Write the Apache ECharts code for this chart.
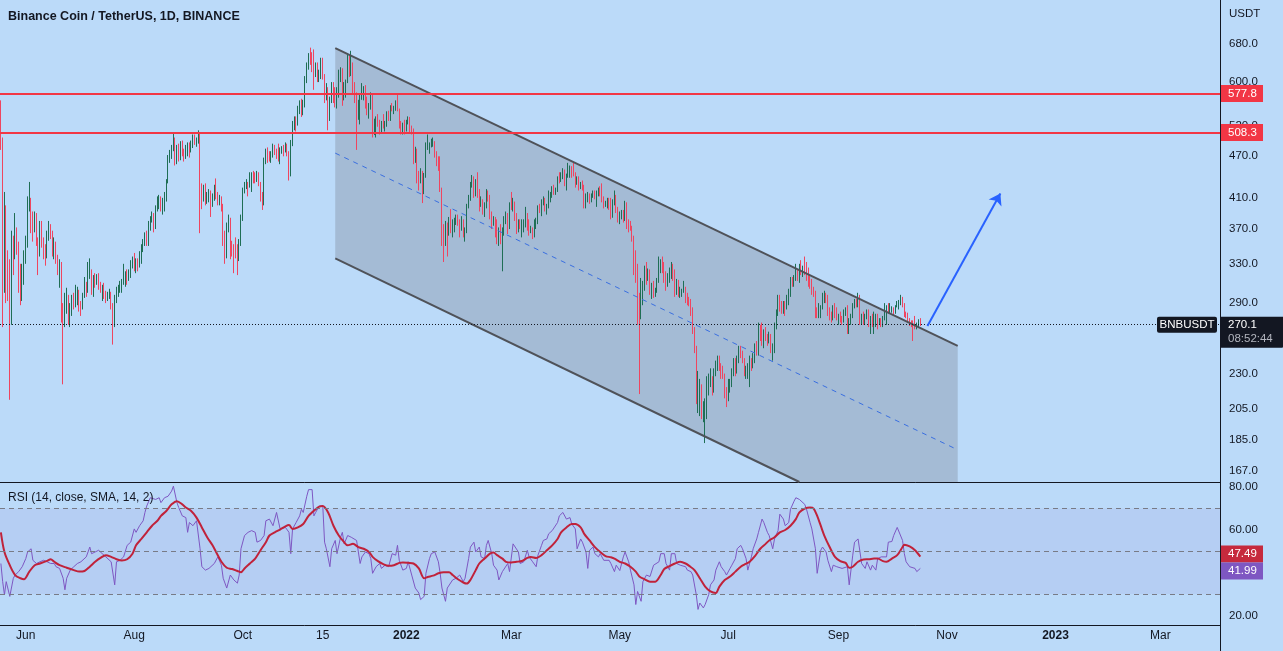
<!DOCTYPE html>
<html><head><meta charset="utf-8">
<script src="https://cdn.jsdelivr.net/npm/echarts@6/dist/echarts.min.js"></script>
<style>html,body{margin:0;padding:0;background:#bbdaf9;}#c{width:1283px;height:651px;}</style>
</head><body><div id="c"></div>
<script>
// ---------------- DATA ----------------
const startDate = '2021-05-18';
const dayCount = 686;              // categories through 2023-04-03
const firstOpen = 560;
const closes = [
493,345,390,330,322,285,355,338,362,350,316,300,318,338,
352,400,408,382,370,385,356,352,375,355,347,345,364,370,366,342,352,336,326,330,280,276,290,296,278,284,294,290,298,302,
288,287,298,310,302,318,322,303,314,312,316,307,305,306,298,294,298,299,287,272,294,302,304,307,310,316,318,314,320,330,331,
326,332,330,341,348,352,360,357,375,380,386,372,397,405,406,396,396,411,431,468,475,480,493,464,484,469,490,475,470,478,487,
481,489,498,497,497,503,425,411,419,408,414,418,403,413,423,415,407,409,400,361,340,373,382,350,347,346,340,336,353,383,
420,428,431,426,441,441,440,436,442,429,412,408,462,476,470,467,474,482,479,474,467,479,483,479,486,474,444,490,520,532,531,
548,560,550,556,606,632,650,648,636,618,624,610,615,640,612,581,585,540,568,580,570,558,582,612,614,568,588,600,640,617,
634,582,574,553,556,570,580,586,559,542,556,576,512,522,527,524,516,522,520,521,540,531,551,550,550,556,548,520,511,518,511,
528,531,512,509,472,481,440,435,443,418,440,485,486,487,491,494,477,466,458,422,373,360,375,374,376,374,378,379,384,381,374,
379,363,370,399,410,430,436,418,432,415,400,406,392,399,418,412,386,378,383,367,356,370,355,369,383,384,373,401,
400,402,386,369,380,372,372,375,388,376,367,369,364,378,380,397,396,404,407,395,398,410,414,421,419,420,437,434,442,445,429,
441,442,452,449,444,430,436,425,430,425,401,411,415,406,414,418,415,417,420,418,409,401,403,408,404,387,405,412,395,380,
390,391,380,403,378,377,372,361,326,321,294,281,297,309,326,316,322,302,305,298,302,313,328,332,327,318,310,316,320,328,320,
302,311,298,301,302,305,298,292,291,283,265,250,214,218,219,201,204,208,225,225,225,218,232,237,241,236,230,229,217,215,
220,223,232,240,234,240,250,245,240,231,232,235,240,237,241,251,247,267,263,255,262,258,256,260,249,249,270,280,293,287,285,
287,286,294,298,311,309,315,320,314,326,321,325,322,316,315,308,302,300,284,278,285,285,296,297,293,284,277,276,286,280,276,
278,276,273,282,283,273,273,278,287,291,289,295,274,276,275,277,282,271,275,271,272,278,273,273,272,276,280,285,283,283,
285,280,287,290,290,295,289,279,278,275,272,271,270,268,270,273,270.1
];
const highs = [
565,500,418,400,345,335,368,362,390,372,355,330,330,345,
362,412,432,410,392,392,390,360,380,380,360,352,368,380,376,368,360,355,340,335,332,290,300,305,298,290,298,300,308,306,
303,292,300,316,311,332,336,324,318,320,319,320,311,308,310,302,301,304,301,290,298,306,308,312,314,330,322,324,324,334,338,
342,336,336,344,352,358,366,368,380,386,392,390,400,412,414,412,410,418,436,472,480,488,508,500,488,490,494,495,482,488,492,
492,495,505,505,500,512,506,430,428,430,418,422,420,416,428,437,418,414,412,402,368,378,388,384,356,352,360,352,358,388,
424,432,436,432,446,446,448,446,448,446,432,418,468,482,484,478,478,490,488,482,490,484,486,488,492,490,478,496,528,536,536,
555,565,568,566,612,640,660,672,662,668,640,640,625,650,650,616,598,590,572,600,600,590,590,625,630,628,600,605,660,655,
665,640,600,580,566,575,598,592,594,572,560,580,578,532,536,540,530,528,540,528,545,546,556,560,555,565,575,550,528,525,530,
530,536,535,520,515,485,482,448,452,448,445,492,505,492,498,500,494,478,470,470,424,376,380,378,385,395,382,384,388,388,382,
386,382,372,402,414,432,442,440,436,446,422,412,408,404,422,420,414,392,386,385,382,372,376,372,386,392,390,404,
418,410,405,390,382,382,382,382,398,390,382,374,372,382,384,400,402,408,412,410,402,420,418,426,428,424,440,446,446,452,450,
444,460,456,455,460,446,440,440,432,434,428,416,418,416,416,420,420,420,424,426,430,412,406,410,410,410,408,420,414,398,
392,394,394,406,404,382,380,374,362,345,330,300,315,312,328,332,325,324,310,312,305,315,338,335,338,332,322,320,326,332,330,
324,314,313,306,304,312,306,300,296,294,286,268,252,232,226,222,210,212,228,230,234,228,234,240,244,244,238,236,230,220,
226,226,234,242,242,244,252,252,248,242,236,238,244,242,246,254,256,272,270,272,266,268,262,264,262,254,272,284,298,298,292,
292,292,298,304,316,316,318,330,324,330,334,328,338,332,326,318,314,306,302,286,290,288,300,302,300,298,286,282,288,290,286,
280,282,278,284,286,288,276,280,290,294,294,300,298,280,282,280,284,284,278,280,282,280,280,276,276,278,290,288,290,290,
287,286,288,292,293,298,296,290,282,281,276,274,274,278,272,275,276
];
const lows = [
480,268,300,290,292,211,270,318,335,340,300,288,292,308,
330,348,392,365,355,366,350,318,338,348,335,328,336,356,358,338,335,330,318,305,272,222,268,280,270,268,278,284,286,288,
282,278,284,295,296,300,314,298,296,305,308,303,300,292,294,290,292,294,284,253,268,290,296,300,300,308,306,308,312,315,325,
322,320,322,326,330,343,350,350,350,368,378,366,370,392,395,392,388,392,405,430,460,466,478,456,458,462,464,470,462,466,470,
468,476,483,488,485,490,365,395,405,400,402,404,385,398,406,408,400,400,392,350,330,336,366,335,338,320,336,318,333,350,
380,416,422,412,424,418,430,430,432,426,405,394,400,458,460,462,460,468,472,466,462,458,474,470,476,470,434,440,486,512,510,
520,540,535,538,552,598,625,635,620,585,610,600,600,606,605,560,565,512,528,560,560,552,550,570,600,555,565,570,598,610,
612,575,560,480,530,522,566,565,550,538,532,548,500,504,500,518,505,508,515,510,518,528,528,545,540,546,545,515,505,505,505,
510,522,508,505,458,460,430,420,430,403,415,438,480,474,484,485,468,455,448,418,350,332,350,338,362,365,360,366,375,374,360,
368,360,355,365,396,406,424,410,412,410,392,398,388,385,396,405,382,370,374,360,352,350,352,322,362,376,364,370,
394,392,380,364,366,370,360,366,372,368,362,365,358,360,370,376,390,386,400,392,388,396,404,410,414,414,418,430,432,436,426,
420,438,438,438,440,424,428,420,422,420,396,396,404,402,404,410,408,398,412,412,404,396,398,396,394,382,384,400,390,378,
376,382,378,380,370,366,368,355,318,310,270,215,275,288,302,308,312,298,294,295,296,300,310,320,320,310,302,306,310,314,312,
296,298,296,295,296,300,290,288,287,278,262,246,208,202,200,198,196,183,198,214,220,214,216,228,232,232,226,226,212,206,
210,216,220,228,228,230,238,242,238,228,226,226,220,232,234,238,244,244,256,252,250,256,252,254,246,240,246,266,278,282,280,
280,278,284,288,296,306,306,312,312,310,318,316,318,312,306,304,298,296,276,276,276,276,284,290,290,278,274,272,274,276,274,
270,272,270,272,278,262,262,270,276,285,286,286,270,270,270,270,275,268,262,268,262,268,266,270,268,268,274,270,280,280,
281,279,280,286,284,288,286,277,276,272,269,268,256,266,266,268,269
];
// RSI(14): [day index from startDate, value]
const rsiPoints = [[0,44.3],[1,35.8],[2,29.7],[3,35.8],[5,28.9],[7,37.4],[8,38.9],[10,40.5],[12,42.8],[14,46.6],[15,49.7],[17,51.2],[18,45.8],[20,44.3],[22,45.1],[24,45.8],[26,45.1],[28,44.3],[30,44.3],[31,42.8],[33,42],[35,37.4],[36,32],[37,37.4],[39,41.2],[41,42.8],[43,44.3],[45,45.1],[46,45.8],[48,47.4],[50,52],[51,48.9],[53,49.7],[55,50.5],[57,48.9],[59,47.4],[60,46.6],[62,45.1],[64,34.3],[65,45.1],[67,45.8],[69,47.4],[71,52.8],[73,54.3],[75,60.5],[76,58.9],[78,62],[80,64.3],[81,68.2],[82,71.2],[84,75.1],[85,75.8],[87,74.3],[89,75.1],[90,72.8],[92,75.1],[94,75.8],[96,78.2],[97,80.5],[99,72.8],[100,70.5],[102,66.6],[104,65.8],[105,58.9],[106,63.5],[108,62],[110,64.3],[111,65.1],[112,51.2],[113,42.8],[115,41.2],[117,42],[118,41.2],[120,44.3],[122,47.4],[124,43.5],[125,37.4],[127,32.8],[129,38.9],[131,36.6],[133,35.1],[134,38.9],[135,51.2],[137,57.4],[139,58.9],[141,59.7],[143,58.9],[144,54.3],[146,55.1],[148,57.4],[149,64.3],[151,65.1],[153,62],[155,68.2],[157,60.5],[158,59.7],[160,61.2],[162,58.9],[163,48.9],[164,60.5],[166,63.5],[168,66.6],[169,69.7],[170,68.2],[172,75.8],[173,78.9],
[175,78.9],[176,66.6],[177,68.2],[179,71.2],[181,71.2],[182,54.3],[183,51.2],[185,42.8],[186,51.2],[188,55.1],[189,48.9],[191,56.6],[192,58.9],[193,53.5],[195,57.4],[197,56.6],[198,57.4],[200,55.1],[201,49.7],[202,44.3],[203,47.4],[205,49.7],[207,48.9],[208,46.6],[209,39.7],[211,42.8],[213,44.3],[214,42],[216,43.5],[218,42.8],[220,48.9],[222,48.2],[223,52.8],[224,45.8],[226,41.2],[228,42],[229,45.1],[231,38.9],[233,32.8],[235,30.5],[236,27.4],[238,28.9],[239,39.7],[241,46.6],[242,48.9],[244,49.7],[246,45.1],[247,39.7],[248,32.8],[250,26.6],[251,32.8],[252,33.5],[254,36.6],[256,37.4],[258,38.9],[260,35.8],[261,37.4],[263,46.6],[264,52],[266,54.3],[267,49.7],[269,52],[270,47.4],[272,46.6],[273,52.8],[274,55.1],[276,48.9],[277,43.5],[279,41.2],[280,36.6],[282,40.5],[283,41.2],[285,44.3],[286,40.5],[288,53.5],[289,54.3],[291,49.7],[292,44.3],[294,45.1],[296,50.5],[297,47.4],[299,45.1],[301,42.8],[302,48.2],[304,52.8],[305,55.1],[307,55.8],[308,58.2],[310,59.7],[311,60.5],[313,63.5],[314,66.6],[316,68.2],[317,68.9],[318,65.1],[320,65.8],[321,62.8],[323,60.5],[324,51.2],[326,55.8],[327,54.3],[329,49.7],[330,42],[331,50.5],[333,52],[334,48.9],[336,47.4],[337,48.9],[339,45.8],[340,45.1],[342,45.8],[343,44.3],[345,40.5],[346,43.5],[348,41],
[350,47.4],[351,49.7],[353,45.1],[354,41.2],[356,34.3],[357,25.1],[358,31.2],[360,26.6],[361,35.8],[363,38.9],[364,39.7],[365,38.2],[367,43.5],[368,42.8],[370,45.1],[371,48.9],[373,48.9],[374,44.3],[376,41.2],[377,48.9],[379,48.9],[380,44.3],[382,43.5],[383,44.3],[385,42.8],[386,41.2],[388,40.5],[389,38.9],[391,29.7],[392,22.8],[393,25.8],[395,23.5],[396,25.1],[398,29.7],[399,34.3],[401,36.6],[402,41.2],[404,45.1],[405,42.8],[407,40.5],[408,38.9],[410,42],[411,43.5],[413,46.6],[414,51.2],[416,52.8],[417,51.2],[419,46.6],[420,41.2],[422,47.4],[423,51.2],[425,55.8],[426,58.9],[428,65.1],[429,63.5],[431,58.9],[432,57.4],[434,51.2],[435,55.8],[437,59.7],[438,67.4],[440,65.1],[441,62],[443,63.5],[444,69.7],[446,73.5],[447,75.1],[449,74.3],[450,75.1],[452,72],[453,69.7],[455,63.5],[456,60.5],[458,51.2],[459,39.7],[461,50.5],[462,52],[464,49.7],[465,45.8],[467,40.5],[468,43.5],[470,42.8],[471,42.8],[473,42],[474,41.2],[476,42.8],[477,34.3],[479,48.2],[480,54.3],[482,55.8],[483,55.1],[484,44.3],[486,42],[487,45.1],[489,41.2],[490,43.5],[492,41.2],[493,46.6],[495,47.4],[496,48.2],[498,47.4],[499,54.3],[501,54.6],[502,57.4],[504,61.2],[505,62],[507,55.1],[508,48.9],[509,45.1],[511,42.8],[512,42],[514,42],[515,40.5],[517,41.99]];
// RSI-based SMA(14)
const smaPoints = [[0,58.9],[2,49.7],[5,43.5],[8,38.9],[11,37.4],[13,36.9],[16,40.5],[19,43.5],[22,44.3],[26,45.5],[28,46.3],[30,45.1],[33,43.5],[37,42.3],[41,41.2],[44,40.5],[47,40.8],[50,42.8],[53,45.1],[56,46.9],[59,48.2],[62,47.4],[65,46.3],[68,45.7],[71,46.3],[74,48.9],[76,52.8],[79,55.8],[82,58.9],[85,62],[88,64.3],[90,66.6],[93,68.9],[96,72],[99,73.5],[102,72],[104,70.5],[107,68.9],[110,65.8],[113,61.2],[116,56.6],[119,52.8],[121,49.7],[124,45.1],[127,42.3],[130,41.7],[133,40.8],[135,40.2],[137,42],[140,44.3],[143,46.6],[146,50.5],[149,54.3],[151,57.4],[154,58.9],[157,60.2],[160,61.7],[162,62.3],[164,60.5],[167,61.2],[170,62.8],[173,66.6],[177,69.7],[179,70.9],[181,71.2],[184,68.2],[187,62],[190,57.4],[193,54.3],[195,52.8],[198,53.5],[201,52],[204,51.2],[207,49.7],[209,47.4],[212,45.4],[215,44],[218,43.2],[221,43.5],[224,44.6],[226,44.8],[229,44.6],[232,44.3],[235,42],[238,37.4],[240,38],[243,38.6],[246,39.7],[249,40.2],[252,40.2],[254,38.9],[257,36.9],[260,35.4],[262,34.9],[264,36.6],[267,41.2],[269,44.3],[272,46.6],[275,48.9],[277,49.4],[279,48.2],[282,46.6],[284,45.1],[287,44.8],[290,45.1],[293,45.5],[296,46.9],[298,47.4],[301,46.9],[304,48.2],[307,50.5],[310,52.8],[313,55.8],[315,58.9],[318,61.2],[321,62.8],[323,62.8],[326,61.2],[328,58.2],[331,55.1],[334,52],[337,49.7],[340,47.8],[343,47.2],[345,46.6],[348,45.1],[351,44.3],[354,42.8],[357,40.5],[359,38.2],[362,36.9],[365,35.8],[368,35.8],[371,38.9],[373,41.7],[376,43.1],[379,44.3],[382,45.1],[385,44.3],[387,43.2],[390,41.2],[393,37.4],[396,33.5],[399,31.2],[402,30.5],[404,33.5],[407,36.6],[410,38.2],[413,40.5],[416,42.8],[418,43.8],[421,45.1],[424,47.8],[427,51.2],[430,53.5],[432,55.1],[435,56.6],[438,58.9],[441,60],[444,62],[447,65.1],[449,68.2],[452,70],[455,70.5],[457,70],[459,66.6],[461,62],[463,57.4],[466,52],[469,47.4],[472,45.4],[475,44.6],[477,42.3],[479,42.8],[482,45.1],[485,46.2],[488,46.3],[491,46.6],[493,46.6],[496,45.4],[498,45.1],[501,46.6],[504,48.2],[507,52],[508,53.1],[511,52.3],[514,50.5],[517,47.49]];

const priceTicks = [167,185,205,230,260,290,330,370,410,470,520,600,680];
const rsiTicks = [20,40,60,80];
const levelLines = [577.8, 508.3];
const lastPrice = 270.1;
const countdown = '08:52:44';
const lastRsi = 41.99;
const lastSma = 47.49;
const rsiBands = [70, 50, 30];
// drawings: [date, price]
const channelUpper = [['2021-11-22', 671], ['2022-11-07', 252]];
const channelLower = [['2021-11-22', 336], ['2022-08-10', 161]];
const channelMid   = [['2021-11-22', 475], ['2022-11-07', 179]];
const arrowLine    = [['2022-10-21', 269], ['2022-12-01', 416]];
const xLabels = {'2021-06-01':'Jun','2021-08-01':'Aug','2021-10-01':'Oct','2021-11-15':'15','2022-01-01':'2022','2022-03-01':'Mar','2022-05-01':'May','2022-07-01':'Jul','2022-09-01':'Sep','2022-11-01':'Nov','2023-01-01':'2023','2023-03-01':'Mar'};

// ---------------- BUILD ----------------
const FONT = '"Liberation Sans", Arial, sans-serif';
const TXT = '#131722';
const BG = '#bbdaf9';
const UP = '#1f6e55', DOWN = '#ef4560';
const gridRight = 63;
const priceMin = 161, priceMax = 786;
const rsiMin = 15.5, rsiMax = 82;

const [sy, sm, sd] = startDate.split('-').map(Number);
const t0 = Date.UTC(sy, sm - 1, sd);
const dates = [];
for (let i = 0; i < dayCount; i++) dates.push(new Date(t0 + i * 86400000).toISOString().slice(0, 10));
const idx = d => dates.indexOf(d);

const candles = closes.map((c, i) => {
  const o = i === 0 ? firstOpen : closes[i - 1];
  return [o, c, Math.min(lows[i], o, c), Math.max(highs[i], o, c)];
});
const seg = pts => pts.map(p => [idx(p[0]), p[1]]);
const channelPoly = [channelUpper[0], channelUpper[1], [channelUpper[1][0], channelLower[1][1]], channelLower[1], channelLower[0]];

const chart = echarts.init(document.getElementById('c'), null, {renderer: 'canvas', width: 1283, height: 651});
const option = {
  animation: false,
  backgroundColor: BG,
  textStyle: {fontFamily: FONT},
  title: [
    {text: 'Binance Coin / TetherUS, 1D, BINANCE', left: 3, top: 5, padding: [5, 5], textStyle: {fontFamily: FONT, fontSize: 12.5, fontWeight: 'bold', color: TXT}},
    {text: 'RSI (14, close, SMA, 14, 2)', left: 3, top: 487, padding: [5, 5], textStyle: {fontFamily: FONT, fontSize: 12, fontWeight: 'normal', color: TXT}}
  ],
  grid: [
    {left: 0, right: gridRight, top: 0, height: 482},
    {left: 0, right: gridRight, top: 483, bottom: 26}
  ],
  xAxis: [
    {type: 'category', gridIndex: 0, data: dates, boundaryGap: true,
     axisLine: {show: true, lineStyle: {color: TXT, width: 1}}, axisTick: {show: false}, axisLabel: {show: false}, splitLine: {show: false}},
    {type: 'category', gridIndex: 1, data: dates, boundaryGap: true,
     axisLine: {show: true, lineStyle: {color: TXT, width: 1}}, axisTick: {show: false}, splitLine: {show: false},
     axisLabel: {show: true, margin: 5, color: TXT, fontSize: 12, fontFamily: FONT, hideOverlap: false,
       interval: (i, v) => xLabels[v] !== undefined,
       formatter: v => { const t = xLabels[v] || ''; return /^\d{4}$/.test(t) ? '{y|' + t + '}' : t; },
       rich: {y: {fontWeight: 'bold', fontSize: 12, fontFamily: FONT, color: TXT}}}}
  ],
  yAxis: [
    {type: 'log', logBase: 10, gridIndex: 0, position: 'right', min: priceMin, max: priceMax,
     axisLine: {show: true, lineStyle: {color: TXT}}, axisTick: {show: false}, axisLabel: {show: false}, splitLine: {show: false}},
    {type: 'value', gridIndex: 1, position: 'right', min: rsiMin, max: rsiMax,
     axisLine: {show: true, lineStyle: {color: TXT}}, axisTick: {show: false}, axisLabel: {show: false}, splitLine: {show: false}}
  ],
  series: [
    {type: 'custom', name: 'channelFill', xAxisIndex: 0, yAxisIndex: 0, z: 1, silent: true,
     data: [[idx(channelUpper[0][0]), channelUpper[0][1]]],
     renderItem: (params, api) => ({type: 'polygon', shape: {points: channelPoly.map(p => api.coord([idx(p[0]), p[1]]))},
       style: {fill: 'rgba(118,124,140,0.33)'}})},
    {type: 'candlestick', name: 'BNBUSDT', xAxisIndex: 0, yAxisIndex: 0, z: 2, barWidth: 1,
     data: candles,
     itemStyle: {color: UP, color0: DOWN, borderColor: UP, borderColor0: DOWN, borderWidth: 1},
     emphasis: {disabled: true},
     markLine: {silent: true, symbol: ['none', 'none'], label: {show: false}, animation: false,
       data: [
         {yAxis: levelLines[0], lineStyle: {color: '#f23645', width: 2, type: 'solid'}},
         {yAxis: levelLines[1], lineStyle: {color: '#f23645', width: 2, type: 'solid'}},
         {yAxis: lastPrice, lineStyle: {color: TXT, width: 1, type: [1, 2]}}
       ]}},
    {type: 'line', name: 'upper', xAxisIndex: 0, yAxisIndex: 0, z: 3, silent: true, symbol: 'none',
     data: seg(channelUpper), lineStyle: {color: '#4f5259', width: 2}},
    {type: 'line', name: 'lower', xAxisIndex: 0, yAxisIndex: 0, z: 3, silent: true, symbol: 'none',
     data: seg(channelLower), lineStyle: {color: '#4f5259', width: 2}},
    {type: 'line', name: 'mid', xAxisIndex: 0, yAxisIndex: 0, z: 3, silent: true, symbol: 'none',
     data: seg(channelMid), lineStyle: {color: '#3a6fe0', width: 1, type: [5, 5]},
     markLine: {silent: true, symbol: ['none', 'arrow'], symbolSize: 11, label: {show: false},
       lineStyle: {color: '#2962ff', width: 2, type: 'solid'},
       data: [[{coord: [idx(arrowLine[0][0]), arrowLine[0][1]]}, {coord: [idx(arrowLine[1][0]), arrowLine[1][1]]}]]}},
    {type: 'line', name: 'RSI', xAxisIndex: 1, yAxisIndex: 1, z: 3, silent: true, symbol: 'none',
     data: rsiPoints, lineStyle: {color: '#7e57c2', width: 1},
     markArea: {silent: true, itemStyle: {color: 'rgba(126,87,194,0.09)'}, data: [[{yAxis: rsiBands[0]}, {yAxis: rsiBands[2]}]]},
     markLine: {silent: true, symbol: ['none', 'none'], label: {show: false},
       lineStyle: {color: '#787b86', width: 1, type: [5, 4]},
       data: rsiBands.map(v => ({yAxis: v}))}},
    {type: 'line', name: 'RSI SMA', xAxisIndex: 1, yAxisIndex: 1, z: 4, silent: true, symbol: 'none', smooth: 0.3,
     data: smaPoints, lineStyle: {color: '#c0223a', width: 2}}
  ]
};
chart.setOption(option);

// ---------- right-axis labels placed through the axes' own scales ----------
const W = chart.getWidth(), H = chart.getHeight();
const ax = W - gridRight;
const font = '11.5px ' + FONT;
const g = [];
g.push({type: 'line', shape: {x1: ax + 0.5, y1: 0, x2: ax + 0.5, y2: H}, style: {stroke: TXT, lineWidth: 1}, z: 50});
g.push({type: 'text', x: ax + 9, y: 14, style: {text: 'USDT', fill: TXT, font: font, align: 'left', verticalAlign: 'middle'}, z: 50});
priceTicks.forEach(v => {
  const y = chart.convertToPixel({yAxisIndex: 0}, v);
  g.push({type: 'text', x: ax + 9, y: y, style: {text: v.toFixed(1), fill: TXT, font: font, align: 'left', verticalAlign: 'middle'}, z: 50});
});
rsiTicks.forEach(v => {
  const y = chart.convertToPixel({yAxisIndex: 1}, v);
  g.push({type: 'text', x: ax + 9, y: y, style: {text: v.toFixed(2), fill: TXT, font: font, align: 'left', verticalAlign: 'middle'}, z: 50});
});
const box = (yc, w, h, fill, lines) => {
  g.push({type: 'rect', shape: {x: ax + 1, y: yc - h / 2, width: w, height: h}, style: {fill: fill}, z: 60});
  lines.forEach(l => g.push({type: 'text', x: ax + 8, y: yc + (l.dy || 0), style: {text: l.t, fill: l.c || '#fff', font: font, align: 'left', verticalAlign: 'middle'}, z: 61}));
};
levelLines.forEach(v => box(chart.convertToPixel({yAxisIndex: 0}, v), 42, 17, '#f23645', [{t: v.toFixed(1)}]));
const yl = chart.convertToPixel({yAxisIndex: 0}, lastPrice);
g.push({type: 'rect', shape: {x: ax + 1, y: yl - 8, width: W - ax, height: 31, r: [0, 0, 3, 0]}, style: {fill: TXT}, z: 60});
g.push({type: 'text', x: ax + 8, y: yl, style: {text: lastPrice.toFixed(1), fill: '#fff', font: font, align: 'left', verticalAlign: 'middle'}, z: 61});
g.push({type: 'text', x: ax + 8, y: yl + 14, style: {text: countdown, fill: '#b2b5be', font: font, align: 'left', verticalAlign: 'middle'}, z: 61});
g.push({type: 'rect', shape: {x: ax - 63, y: yl - 8, width: 60, height: 16, r: 2}, style: {fill: TXT}, z: 60});
g.push({type: 'text', x: ax - 33, y: yl, style: {text: 'BNBUSDT', fill: '#fff', font: font, align: 'center', verticalAlign: 'middle'}, z: 61});
let ySma = chart.convertToPixel({yAxisIndex: 1}, lastSma);
let yRsi = chart.convertToPixel({yAxisIndex: 1}, lastRsi);
if (yRsi - ySma < 17) { const m = (yRsi + ySma) / 2; ySma = m - 8.5; yRsi = m + 8.5; }
box(ySma, 42, 17, '#c62a3d', [{t: lastSma.toFixed(2)}]);
box(yRsi, 42, 17, '#7e57c2', [{t: lastRsi.toFixed(2)}]);
chart.setOption({graphic: g});
</script></body></html>
